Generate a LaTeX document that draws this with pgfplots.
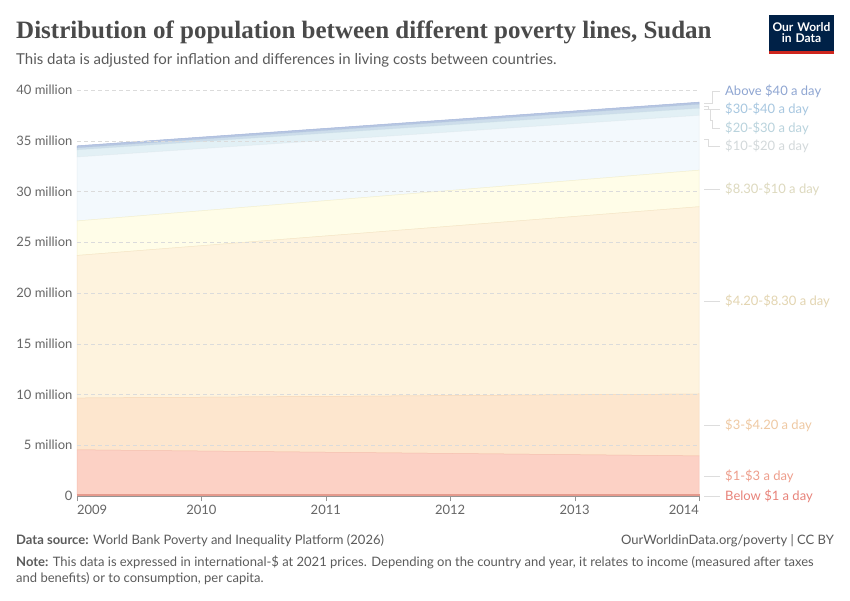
\documentclass[border=0pt]{standalone}
\usepackage{pgfplots}
\pgfplotsset{compat=1.18}
\usepackage{fontspec}
\setmainfont{Lato}
\newfontfamily\titlefont{Liberation Serif}
% band fills and their top edges
\definecolor{cA}{HTML}{E59A8D}
\definecolor{fB}{HTML}{FCD1C5}\definecolor{dB}{HTML}{F6BFB0}
\definecolor{fC}{HTML}{FDE6CE}\definecolor{dC}{HTML}{F8D8B8}
\definecolor{fD}{HTML}{FEF3DE}\definecolor{dD}{HTML}{F6E6C8}
\definecolor{fE}{HTML}{FFFDE8}\definecolor{dE}{HTML}{F5F1D0}
\definecolor{fF}{HTML}{F3F9FD}\definecolor{dF}{HTML}{E6EEF3}
\definecolor{fG}{HTML}{E2F0F5}\definecolor{dG}{HTML}{D3E5EC}
\definecolor{fH}{HTML}{CDDDEB}\definecolor{dH}{HTML}{BBCFE2}
\definecolor{fI}{HTML}{B7C6E2}\definecolor{dI}{HTML}{A4B6DA}
% label colours
\definecolor{lA}{HTML}{E8837A}
\definecolor{lB}{HTML}{EE9E8C}
\definecolor{lC}{HTML}{EFC9A3}
\definecolor{lD}{HTML}{E3D5B1}
\definecolor{lE}{HTML}{DDD9BE}
\definecolor{lF}{HTML}{D3D9DB}
\definecolor{lG}{HTML}{B9D3DD}
\definecolor{lH}{HTML}{A7C7E0}
\definecolor{lI}{HTML}{8FA6D2}
\definecolor{txt}{HTML}{5B5B5B}
\definecolor{tick}{HTML}{666666}
\definecolor{ttl}{HTML}{4A4A4A}
\definecolor{navy}{HTML}{002147}
\definecolor{owidred}{HTML}{CE261E}
\definecolor{lead}{HTML}{DDDDDD}
\newcommand{\fs}[1]{\fontsize{#1}{#1}\selectfont}
\begin{document}
\begin{tikzpicture}
\path[fill=white] (0pt,0pt) rectangle (850pt,600pt);
\begin{axis}[
  at={(77pt,104pt)}, anchor=south west,
  scale only axis, width=622pt, height=406pt,
  xmin=2009, xmax=2014, ymin=0, ymax=40,
  stack plots=y, area style,
  axis x line*=bottom, axis y line*=left,
  x axis line style={draw=tick!70, -},
  y axis line style={draw=none},
  xtick={2009,2010,2011,2012,2013,2014},
  xticklabels={\makebox[0pt][l]{2009},2010,2011,2012,2013,\makebox[0pt][r]{2014}},
  ytick={0,5,10,15,20,25,30,35,40},
  yticklabels={0,5 million,10 million,15 million,20 million,25 million,30 million,35 million,40 million},
  xtick align=outside, major tick length=5pt,
  xtick style={draw=tick!70},
  ytick style={draw=none},
  ymajorgrids, major grid style={draw=black!14, dash pattern=on 4pt off 3pt},
  tick label style={font=\fs{13}, text=tick},
  yticklabel style={xshift=-1pt},
  xticklabel style={yshift=-1pt},
  axis on top,
  clip=false,
]
\addplot[fill=cA, draw=cA, line width=0.6pt] coordinates {(2009,0.15) (2010,0.15) (2011,0.15) (2012,0.15) (2013,0.15) (2014,0.15)} \closedcycle;
\addplot[fill=fB, draw=dB, line width=0.5pt] coordinates {(2009,4.40) (2010,4.28) (2011,4.16) (2012,4.04) (2013,3.92) (2014,3.80)} \closedcycle;
\addplot[fill=fC, draw=dC, line width=0.5pt] coordinates {(2009,5.10) (2010,5.30) (2011,5.50) (2012,5.70) (2013,5.90) (2014,6.10)} \closedcycle;
\addplot[fill=fD, draw=dD, line width=0.5pt] coordinates {(2009,14.05) (2010,14.93) (2011,15.81) (2012,16.69) (2013,17.57) (2014,18.45)} \closedcycle;
\addplot[fill=fE, draw=dE, line width=0.5pt] coordinates {(2009,3.40) (2010,3.44) (2011,3.48) (2012,3.52) (2013,3.56) (2014,3.60)} \closedcycle;
\addplot[fill=fF, draw=dF, line width=0.5pt] coordinates {(2009,6.30) (2010,6.12) (2011,5.94) (2012,5.76) (2013,5.58) (2014,5.40)} \closedcycle;
\addplot[fill=fG, draw=dG, line width=0.5pt] coordinates {(2009,0.70) (2010,0.70) (2011,0.70) (2012,0.70) (2013,0.70) (2014,0.70)} \closedcycle;
\addplot[fill=fH, draw=dH, line width=0.5pt] coordinates {(2009,0.20) (2010,0.24) (2011,0.28) (2012,0.32) (2013,0.36) (2014,0.40)} \closedcycle;
\addplot[fill=fI, draw=dI, line width=0.5pt] coordinates {(2009,0.20) (2010,0.20) (2011,0.20) (2012,0.20) (2013,0.20) (2014,0.20)} \closedcycle;
\end{axis}

\begin{scope}[x=1pt, y=1pt]
% series labels on the right
\begin{scope}[every node/.style={anchor=west, font=\fs{13}, inner sep=0pt}]
\node[text=lI] at (725,509) {Above \$40 a day};
\node[text=lH] at (725,491) {\$30-\$40 a day};
\node[text=lG] at (725,472) {\$20-\$30 a day};
\node[text=lF] at (725,454) {\$10-\$20 a day};
\node[text=lE] at (725,411) {\$8.30-\$10 a day};
\node[text=lD] at (725,299) {\$4.20-\$8.30 a day};
\node[text=lC] at (725,175) {\$3-\$4.20 a day};
\node[text=lB] at (725,124) {\$1-\$3 a day};
\node[text=lA] at (725,104) {Below \$1 a day};
\end{scope}
\begin{scope}[draw=lead, line width=0.6pt]
\draw (704,497) -- (712,497) -- (712,509) -- (720,509);
\draw (704,494) -- (708,494) -- (708,491) -- (720,491);
\draw (704,491) -- (710,491) -- (710,480) -- (712,480) -- (712,472) -- (720,472);
\draw (704,461) -- (708,461) -- (708,454) -- (720,454);
\draw (704,411) -- (720,411);
\draw (704,299) -- (720,299);
\draw (704,175) -- (720,175);
\draw (704,124) -- (720,124);
\draw (704,104) -- (720,104);
\end{scope}

% title block
\node[anchor=base west, inner sep=0pt, text=ttl, font=\titlefont\bfseries\fs{25}] at (16,561) {Distribution of population between different poverty lines, Sudan};
\node[anchor=base west, inner sep=0pt, text=txt, font=\fs{15}] at (16,535) {This data is adjusted for inflation and differences in living costs between countries.};

% logo
\fill[navy] (769,549) rectangle (834,585);
\fill[owidred] (769,546) rectangle (834,549);
\node[text=white, font=\fs{12}\bfseries, align=center, inner sep=0pt, text width=65pt] at (801.5,567.5) {Our World\\[-1pt]in Data};

% footer
\node[anchor=base west, inner sep=0pt, text=txt, font=\fs{13}] at (16,56) {\textbf{Data source:} World Bank Poverty and Inequality Platform (2026)};
\node[anchor=base east, inner sep=0pt, text=txt, font=\fs{13}] at (834,56) {OurWorldinData.org/poverty | CC BY};
\node[anchor=base west, inner sep=0pt, text=txt, font=\fs{13}] at (16,34) {\textbf{Note:} This data is expressed in international-\$ at 2021 prices. Depending on the country and year, it relates to income (measured after taxes};
\node[anchor=base west, inner sep=0pt, text=txt, font=\fs{13}] at (16,18) {and benefits) or to consumption, per capita.};
\end{scope}
\end{tikzpicture}
\end{document}
